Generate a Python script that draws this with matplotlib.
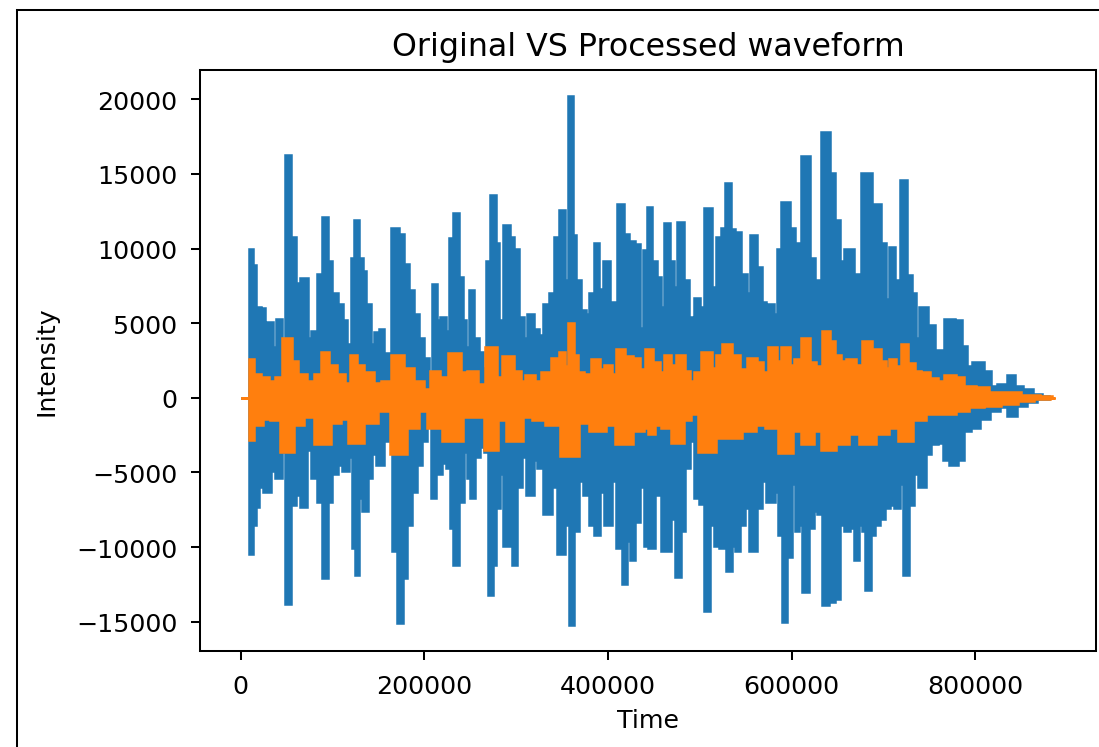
# Original vs processed audio waveform, envelopes
from matplotlib import pyplot as plt
from matplotlib.lines import Line2D
import numpy as np

# original signal: upper envelope (sample index, intensity)
orig_up_t = [0, 8500, 10100, 14500, 18100, 23600, 27200, 32700, 37000, 41700, 46400, 51500, 56200,
             61700, 69700, 74400, 81600, 87100, 91400, 96200, 101600, 108800, 112500, 117900,
             122600, 125900, 130600, 134200, 137900, 143300, 148800, 154200, 157800, 161500,
             168700, 174100, 179600, 185000, 190500, 195900, 201400, 206800, 210400, 214800,
             221300, 224900, 229300, 234000, 239400, 243000, 246700, 252100, 255800, 261200,
             265600, 270200, 275000, 279400, 283000, 289500, 295700, 299300, 304800, 310200,
             315600, 321100, 326500, 333800, 339200, 344700, 350100, 354800, 359200, 362800,
             366500, 371900, 377400, 382800, 388200, 391800, 399100, 404500, 408200, 413600,
             419000, 424500, 431800, 436400, 440800, 444400, 449900, 455300, 458900, 464400,
             469800, 473500, 478900, 484300, 489800, 491900, 497100, 502500, 509700, 515200,
             520600, 526000, 530400, 535100, 540600, 547800, 553300, 558000, 564100, 569500,
             573200, 576800, 582300, 585900, 593200, 600400, 605900, 616800, 622200, 627700,
             638500, 644000, 649400, 654900, 662100, 671200, 682100, 691100, 700200, 703800,
             709300, 714700, 723100, 727400, 732900, 736500, 743000, 751000, 758200, 763700,
             770900, 781800, 787200, 792700, 803600, 812700, 819900, 830800, 839900, 845300,
             856200, 867100, 876000, 882000]
orig_up_v = [0, 0, 10000, 8900, 6100, 6000, 5000, 5100, 3400, 5300, 3400, 16300, 10800,
             7700, 8000, 4000, 4500, 8300, 12100, 9200, 7000, 6300, 5200, 3600,
             9400, 11900, 9400, 8500, 6300, 3600, 4400, 4600, 3000, 3000,
             11400, 11000, 9000, 7200, 5600, 4000, 2700, 1000, 7600, 5200,
             5400, 4500, 10700, 12400, 8100, 5200, 3400, 7200, 4000, 3100,
             2000, 9200, 13600, 10400, 5200, 11600, 10800, 10000, 5400, 4000,
             5600, 4600, 4200, 6300, 7000, 10800, 12600, 7900, 20200, 10900,
             7900, 5900, 5600, 7000, 10400, 7300, 9200, 6400, 6400, 13000,
             11000, 10500, 10300, 4700, 9900, 12800, 9200, 8100, 6100, 11700,
             9200, 7400, 11800, 7900, 5400, 3600, 6700, 6100, 12700, 7400,
             10800, 11400, 14400, 11300, 11100, 8300, 7000, 10900, 8800, 6400,
             4000, 6300, 5600, 10000, 13100, 11400, 10400, 16200, 9400, 7900,
             17800, 15100, 11900, 9200, 10000, 8300, 15100, 13000, 10400, 6600,
             10100, 7900, 14600, 8200, 7000, 4000, 6100, 4900, 3200, 3200,
             5300, 5200, 3500, 2150, 2400, 1800, 800, 900, 1500, 800,
             600, 250, 100, 0]

# original signal: lower envelope
orig_lo_t = [0, 8500, 10100, 14500, 18100, 21700, 29000, 34400, 41700, 46400, 51500, 56200, 61700,
             68900, 74400, 81600, 87100, 91800, 96200, 101600, 108800, 114300, 119700, 123400,
             126300, 130600, 135000, 139700, 145100, 152400, 157800, 163300, 168700, 173500,
             177800, 183300, 188700, 194200, 199600, 205100, 210400, 214100, 221300, 226800,
             230400, 234000, 239400, 244900, 248500, 252100, 256800, 263000, 267700, 272000,
             275700, 279300, 284800, 288400, 293800, 297500, 302900, 308400, 315600, 321100,
             326500, 335600, 341000, 350100, 355500, 359900, 364600, 370000, 377300, 382800,
             388200, 393600, 399100, 406400, 413600, 418000, 422700, 426300, 431800, 437200,
             442700, 446200, 453500, 464400, 471600, 476000, 480700, 486100, 491600, 497100,
             502500, 507900, 513400, 518800, 526000, 531500, 536900, 540600, 546000, 551500,
             558700, 564100, 569500, 576800, 584100, 587700, 592100, 596800, 602200, 605900,
             609500, 614900, 620400, 625800, 631300, 636700, 642100, 649400, 654900, 660300,
             665800, 670500, 674800, 678400, 682800, 687500, 693000, 698400, 703800, 709300,
             714700, 719100, 723800, 729200, 734700, 743000, 747400, 754600, 761900, 769200,
             776400, 783600, 789100, 798100, 809000, 819900, 830800, 839900, 849000, 859800,
             870700, 876000, 882000]
orig_lo_v = [0, 0, -10500, -8500, -7300, -6000, -6300, -4900, -5400, -3600, -13800, -7200, -6500,
             -7300, -3500, -5400, -7000, -12100, -7000, -5100, -4500, -4900, -4000, -10100,
             -11900, -6700, -7600, -5400, -3800, -4500, -2900, -2700, -10300, -15100,
             -12100, -8500, -6300, -4500, -2900, -1500, -6700, -5100, -4400, -4700,
             -8700, -11200, -7000, -3600, -5400, -6700, -4000, -3300, -3600, -13200,
             -11200, -7400, -5100, -9900, -9900, -11200, -6000, -4000, -6500, -4200,
             -4700, -7800, -6000, -10500, -8500, -15200, -8900, -5600, -6500, -8500,
             -9200, -6300, -8500, -5600, -10100, -12500, -9600, -10900, -8300, -6000,
             -9900, -10100, -6500, -10300, -8100, -12000, -8900, -4700, -2900, -6700,
             -7100, -14300, -8500, -9900, -10100, -11600, -9900, -10300, -8500, -7400,
             -10300, -7400, -5600, -7000, -6300, -9200, -15000, -10700, -5800, -8900,
             -8500, -13000, -8700, -7600, -7800, -13900, -13700, -13500, -8500, -8900,
             -8700, -10900, -8500, -8900, -12900, -9200, -8500, -8100, -7400, -7200,
             -7400, -5800, -11900, -7200, -5100, -6000, -3800, -3100, -3000, -4200,
             -4500, -4200, -2200, -2000, -1400, -900, -650, -1200, -550, -300,
             -100, -50, 0]

# processed signal: upper envelope
proc_up_t = [0, 8500, 10100, 16300, 25400, 34400, 41700, 51500, 58000, 65300, 76200, 85300, 91400,
             97900, 108800, 116100, 123400, 128800, 137900, 148800, 159600, 172300, 181400,
             192300, 203200, 210400, 221300, 234000, 243000, 252100, 261200, 275700, 281200,
             292000, 301100, 306600, 315600, 322900, 333800, 344700, 350100, 354800, 359200,
             364600, 368200, 377300, 388200, 393600, 399100, 406400, 413600, 420900, 430000,
             437200, 444400, 451700, 458900, 464400, 471600, 478900, 486100, 491600, 497100,
             509700, 515200, 520600, 530400, 536900, 547800, 558000, 564100, 571400, 579700,
             585900, 593200, 600400, 605900, 616800, 622200, 629500, 638500, 644000, 649400,
             656700, 664000, 673000, 682100, 691100, 700200, 703800, 709300, 716500, 723100,
             729200, 736500, 743700, 754600, 761900, 772800, 781800, 790900, 805400, 819900,
             838100, 856200, 878000, 887000]
proc_up_v = [0, 0, 2600, 1600, 1400, 1100, 1400, 4000, 2500, 1600, 1100, 1600, 3100,
             2200, 1600, 1000, 2900, 2200, 1700, 1000, 1100, 2900, 2000,
             1100, 600, 1800, 1400, 3000, 1700, 1800, 900, 3400, 1400,
             2800, 1800, 1100, 1500, 1100, 1700, 2700, 3100, 2100, 5000,
             2900, 1700, 1600, 2600, 1900, 2200, 1600, 3300, 2800, 2700,
             1900, 3300, 2400, 1700, 2900, 2200, 2900, 1800, 1100, 1700,
             3100, 2000, 2900, 3600, 2900, 1900, 2700, 2400, 1700, 3400,
             2500, 3400, 2200, 2600, 4000, 2400, 2100, 4500, 3800, 2900,
             2500, 2600, 2200, 3800, 3300, 2500, 2000, 2600, 2100, 3600,
             2300, 1800, 1700, 1300, 1100, 1500, 1400, 800, 700, 400,
             400, 200, 100, 0]

# processed signal: lower envelope
proc_lo_t = [0, 8500, 10100, 16300, 29000, 38000, 51500, 61700, 72500, 91800, 101600, 112500,
             126300, 137900, 156000, 173500, 185000, 199600, 210400, 234000, 246700, 261200,
             272000, 284800, 297500, 312000, 326500, 341000, 359900, 373700, 388200, 402700,
             418000, 431800, 442700, 446000, 453500, 464400, 476000, 486100, 493400, 507900,
             522400, 536900, 551500, 566000, 580500, 592100, 605900, 616800, 627700, 638500,
             653000, 667500, 682800, 696600, 711100, 723800, 736500, 751000, 769200, 783600,
             798100, 816300, 834400, 852600, 870700, 887000]
proc_lo_v = [0, 0, -2800, -1800, -1400, -1500, -3600, -1800, -1300, -3100, -1700, -1400,
             -3000, -1700, -900, -3800, -2000, -900, -2000, -2900, -1300, -1300,
             -3500, -1500, -2900, -1300, -1500, -1800, -3900, -1700, -2200, -1800,
             -3100, -2200, -2000, -2400, -1800, -2000, -3000, -1500, -1100, -3600,
             -2700, -2700, -2200, -1800, -2000, -3700, -2200, -3100, -2200, -3500,
             -3100, -2400, -3100, -2400, -2000, -2900, -1500, -1100, -1100, -900,
             -650, -550, -400, -200, -100, 0]


def step_outline(t, v):
    # staircase through the readings; the louder of two neighbours holds
    # most of the gap, so dips stay narrow and peaks stand as blocks
    t = np.asarray(t, dtype=float)
    v = np.asarray(v, dtype=float)
    louder_left = np.abs(v[:-1]) >= np.abs(v[1:])
    frac = np.where(louder_left, 0.65, 0.35)
    edges = t[:-1] + frac * (t[1:] - t[:-1])
    edges = np.concatenate([[t[0]], edges, [t[-1]]])
    return np.repeat(edges, 2)[1:-1], np.repeat(v, 2)


def wave_polygon(up_t, up_v, lo_t, lo_v):
    ux, uy = step_outline(up_t, up_v)
    lx, ly = step_outline(lo_t, lo_v)
    return np.concatenate([ux, lx[::-1]]), np.concatenate([uy, ly[::-1]])


dpi = 182
fig = plt.figure(figsize=(1099 / dpi, 748 / dpi), dpi=dpi)
ax = fig.add_axes([200 / 1099, 1 - 652 / 748, 896 / 1099, 581 / 748])

ox, oy = wave_polygon(orig_up_t, orig_up_v, orig_lo_t, orig_lo_v)
px, py = wave_polygon(proc_up_t, proc_up_v, proc_lo_t, proc_lo_v)
ax.fill(ox, oy, color='C0', lw=1.0)
ax.fill(px, py, color='C1', lw=1.0)

ax.set_title('Original VS Processed waveform', fontsize=12.5)
ax.set_xlabel('Time')
ax.set_ylabel('Intensity', labelpad=6.8)
ax.set_xticks([0, 200000, 400000, 600000, 800000])
ax.set_yticks([-15000, -10000, -5000, 0, 5000, 10000, 15000, 20000])
ax.tick_params(pad=5.5)

# screenshot frame along the top and left edge
fx = 16.5 / 1099
fy = 1 - 10.5 / 748
fig.add_artist(Line2D([fx, fx], [0, fy], transform=fig.transFigure, color='black', lw=0.8))
fig.add_artist(Line2D([fx, 1], [fy, fy], transform=fig.transFigure, color='black', lw=0.8))

fig.savefig('out.png', dpi=dpi)
